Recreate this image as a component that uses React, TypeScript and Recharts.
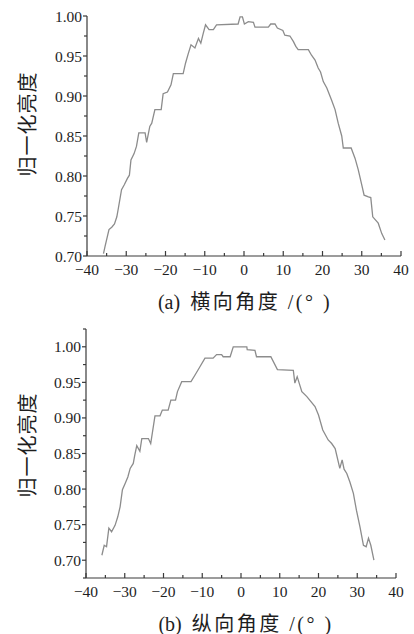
import { Line, LineChart, XAxis, YAxis } from "recharts";

// (a) horizontal angle
const angleA = [
  -35.8, -35.4, -34.4, -33.7, -33.0, -32.4, -32.0, -31.2, -30.5, -29.7, -29.2,
  -28.8, -28.0, -27.4, -26.8, -25.2, -24.8, -24.0, -23.5, -22.7, -21.1, -20.6,
  -19.5, -18.6, -18.0, -15.5, -14.9, -14.2, -13.5, -12.5, -11.6, -11.0, -10.4,
  -9.8, -8.9, -7.8, -7.0, -1.5, -1.0, -0.4, 0.1, 1.1, 2.4, 2.8, 6.2, 6.8, 7.9,
  8.5, 9.9, 10.4, 11.7, 12.6, 13.2, 13.8, 16.4, 17.2, 18.1, 18.9, 19.5, 20.2,
  21.1, 22.3, 23.2, 24.0, 24.9, 25.3, 27.3, 28.3, 29.1, 30.0, 30.6, 31.7, 32.3,
  32.8, 34.2, 35.1, 35.9,
];
const brightA = [
  0.703, 0.712, 0.733, 0.736, 0.74, 0.749, 0.76, 0.783, 0.789, 0.797, 0.801,
  0.82, 0.828, 0.837, 0.854, 0.854, 0.842, 0.862, 0.866, 0.883, 0.883, 0.903,
  0.905, 0.914, 0.928, 0.928, 0.941, 0.953, 0.964, 0.96, 0.972, 0.966, 0.978,
  0.989, 0.983, 0.983, 0.989, 0.99, 0.999, 0.999, 0.99, 0.993, 0.992, 0.986,
  0.986, 0.99, 0.99, 0.985, 0.982, 0.976, 0.975, 0.968, 0.962, 0.958, 0.958,
  0.951, 0.945, 0.935, 0.93, 0.918, 0.91, 0.895, 0.883, 0.866, 0.85, 0.835,
  0.835, 0.822, 0.808, 0.789, 0.776, 0.774, 0.773, 0.749, 0.741, 0.728, 0.72,
];

// (b) vertical angle
const angleB = [
  -35.9, -35.3, -34.7, -34.1, -33.4, -32.5, -31.8, -31.2, -30.6, -29.9, -29.2,
  -28.6, -27.8, -27.4, -26.9, -26.1, -25.6, -23.9, -23.3, -22.2, -20.9, -20.3,
  -18.8, -18.1, -16.9, -16.4, -15.3, -12.9, -11.9, -10.6, -9.3, -7.2, -6.3,
  -5.0, -4.6, -2.8, -2.0, 1.5, 1.6, 3.6, 4.0, 7.7, 9.4, 13.5, 13.9, 14.5, 15.7,
  17.0, 19.1, 20.0, 21.1, 22.5, 23.4, 24.3, 25.5, 26.1, 26.6, 27.3, 28.1, 29.0,
  29.8, 30.7, 31.6, 32.3, 32.9, 33.5, 34.3,
];
const brightB = [
  0.707, 0.721, 0.719, 0.745, 0.74, 0.749, 0.761, 0.775, 0.799, 0.808, 0.817,
  0.829, 0.836, 0.848, 0.861, 0.853, 0.871, 0.871, 0.864, 0.903, 0.903, 0.911,
  0.911, 0.925, 0.925, 0.937, 0.951, 0.951, 0.96, 0.972, 0.984, 0.984, 0.989,
  0.989, 0.986, 0.986, 1.0, 1.0, 0.996, 0.995, 0.986, 0.986, 0.968, 0.967,
  0.949, 0.958, 0.937, 0.93, 0.916, 0.904, 0.883, 0.869, 0.864, 0.857, 0.829,
  0.841, 0.828, 0.822, 0.81, 0.794, 0.77, 0.747, 0.721, 0.719, 0.731, 0.721,
  0.7,
];

const xTicks = [-40, -35, -30, -25, -20, -15, -10, -5, 0, 5, 10, 15, 20, 25, 30, 35, 40];
const yTicksA = [0.7, 0.725, 0.75, 0.775, 0.8, 0.825, 0.85, 0.875, 0.9, 0.925, 0.95, 0.975, 1.0];
const yTicksB = [0.675, 0.7, 0.725, 0.75, 0.775, 0.8, 0.825, 0.85, 0.875, 0.9, 0.925, 0.95, 0.975, 1.0, 1.025];

const yLabel = "归一化亮度";
const captionA = ["(a)", "横向角度 /(° )"];
const captionB = ["(b)", "纵向角度 /(° )"];

const FONT = "'Liberation Serif', 'Noto Sans CJK SC', serif";
const AXIS = "#3a3a3a";

function toRows(xs: number[], ys: number[]) {
  return xs.map((x, i) => ({ angle: x, value: ys[i] }));
}

function XTick(props: any) {
  const { x, y, payload } = props;
  const v = payload.value as number;
  const major = v % 10 === 0;
  const text = v < 0 ? `\u2212${-v}` : `${v}`;
  return (
    <g>
      <line x1={x} y1={y} x2={x} y2={y - (major ? 5 : 3)} stroke={AXIS} strokeWidth={1.2} />
      {major && (
        <text x={x} y={y + 8} dy="0.71em" textAnchor="middle" fontSize={15.5} fill="#1e1e1e" fontFamily={FONT}>
          {text}
        </text>
      )}
    </g>
  );
}

function YTick(props: any) {
  const { x, y, payload } = props;
  const v = payload.value as number;
  const major = Math.round(v * 1000) % 50 === 0;
  return (
    <g>
      <line x1={x - (major ? 4 : 3)} y1={y} x2={x} y2={y} stroke={AXIS} strokeWidth={1.2} />
      {major && (
        <text x={x - 5} y={y} dy="0.355em" textAnchor="end" fontSize={15.5} fill="#1e1e1e" fontFamily={FONT}>
          {v.toFixed(2)}
        </text>
      )}
    </g>
  );
}

type PanelProps = {
  rows: { angle: number; value: number }[];
  height: number;
  margin: { top: number; right: number; left: number; bottom: number };
  yWidth: number;
  yDomain: [number, number];
  yTicks: number[];
};

function Panel({ rows, height, margin, yWidth, yDomain, yTicks }: PanelProps) {
  return (
    <LineChart width={414} height={height} data={rows} margin={margin}>
      <XAxis
        dataKey="angle"
        type="number"
        domain={[-40, 40]}
        ticks={xTicks}
        interval={0}
        height={30}
        tickSize={0}
        tickMargin={0}
        tickLine={false}
        tick={<XTick />}
        stroke={AXIS}
        strokeWidth={1.2}
      />
      <YAxis
        type="number"
        domain={yDomain}
        ticks={yTicks}
        interval={0}
        width={yWidth}
        tickSize={0}
        tickMargin={0}
        tickLine={false}
        tick={<YTick />}
        stroke={AXIS}
        strokeWidth={1.2}
        allowDataOverflow
      />
      <Line
        type="linear"
        dataKey="value"
        stroke="#8c8c8c"
        strokeWidth={1.3}
        dot={false}
        activeDot={false}
        isAnimationActive={false}
      />
    </LineChart>
  );
}

const captionStyle: React.CSSProperties = {
  position: "absolute",
  transform: "translate(-50%, -50%)",
  whiteSpace: "pre",
  fontSize: 20,
  color: "#1e1e1e",
  fontFamily: FONT,
};

const yLabelStyle: React.CSSProperties = {
  position: "absolute",
  transform: "translate(-50%, -50%) rotate(-90deg)",
  whiteSpace: "nowrap",
  fontSize: 20,
  letterSpacing: 1,
  color: "#1e1e1e",
  fontFamily: FONT,
};

function Caption({ parts, left, top }: { parts: string[]; left: number; top: number }) {
  return (
    <div style={{ ...captionStyle, left, top }}>
      <span>{parts[0]}</span>
      <span style={{ marginLeft: 10, letterSpacing: 2.5 }}>{parts[1]}</span>
    </div>
  );
}

export default function App() {
  return (
    <div
      style={{
        position: "absolute",
        left: 0,
        top: 0,
        width: 414,
        height: 634,
        background: "#fff",
        fontFamily: FONT,
      }}
    >
      <div style={{ position: "absolute", left: 0, top: 0 }}>
        <Panel
          rows={toRows(angleA, brightA)}
          height={310}
          margin={{ top: 16, right: 13, left: 0, bottom: 24 }}
          yWidth={87}
          yDomain={[0.7, 1.0]}
          yTicks={yTicksA}
        />
      </div>
      <div style={{ position: "absolute", left: 0, top: 310 }}>
        <Panel
          rows={toRows(angleB, brightB)}
          height={324}
          margin={{ top: 19, right: 18, left: 0, bottom: 26 }}
          yWidth={86}
          yDomain={[0.675, 1.025]}
          yTicks={yTicksB}
        />
      </div>
      <div style={{ ...yLabelStyle, left: 26, top: 124 }}>{yLabel}</div>
      <div style={{ ...yLabelStyle, left: 26, top: 445 }}>{yLabel}</div>
      <Caption parts={captionA} left={245} top={300} />
      <Caption parts={captionB} left={246} top={622} />
    </div>
  );
}
